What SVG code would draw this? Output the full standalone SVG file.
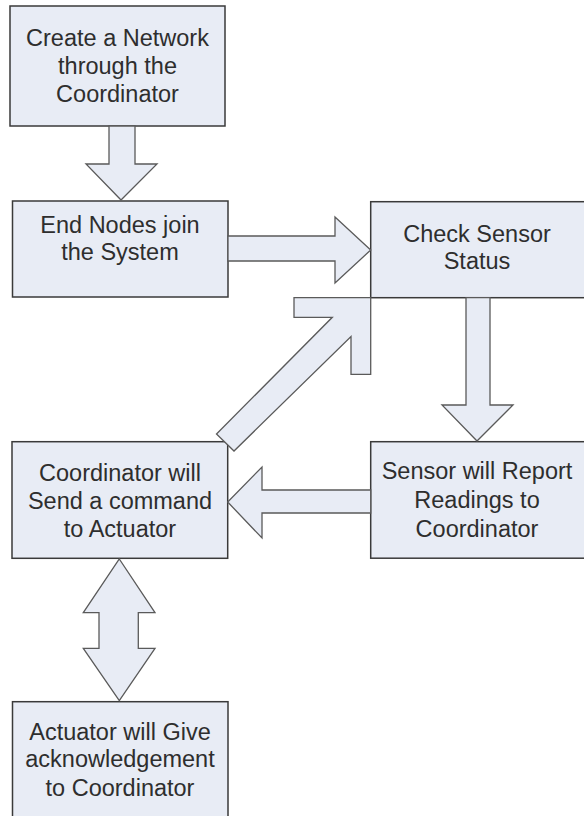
<svg xmlns="http://www.w3.org/2000/svg" width="584" height="816" viewBox="0 0 584 816">
<style>
.box{fill:#e8ecf5;stroke:#3a3a3a;stroke-width:1.5}
.arr{fill:#e8ecf5;stroke:#5a5a5a;stroke-width:1.3;stroke-linejoin:miter}
text{font-family:"Liberation Sans",Arial,sans-serif;font-size:23.5px;fill:#2e2e2e;text-anchor:middle}
</style>
<rect width="584" height="816" fill="#ffffff"/>
<g id="n1"><rect class="box" x="10" y="6" width="215" height="120"/>
<text x="117.5" y="46">Create a Network</text><text x="117.5" y="74">through the</text><text x="117.5" y="102">Coordinator</text></g>
<g id="n2"><rect class="box" x="12.5" y="201" width="215.5" height="96"/>
<text x="120" y="233">End Nodes join</text><text x="120" y="260">the System</text></g>
<g id="n3"><rect class="box" x="370.7" y="201.7" width="220" height="96"/>
<text x="477" y="242">Check Sensor</text><text x="477" y="269">Status</text></g>
<g id="n4"><rect class="box" x="370.7" y="441.7" width="220" height="116.5"/>
<text x="477" y="479">Sensor will Report</text><text x="477" y="508">Readings to</text><text x="477" y="537">Coordinator</text></g>
<g id="n5"><rect class="box" x="12" y="441.7" width="215.7" height="116.6"/>
<text x="120" y="481">Coordinator will</text><text x="120" y="509">Send a command</text><text x="120" y="537">to Actuator</text></g>
<g id="n6"><rect class="box" x="12.5" y="701.7" width="215.5" height="130"/>
<text x="120" y="740">Actuator will Give</text><text x="120" y="767">acknowledgement</text><text x="120" y="796">to Coordinator</text></g>
<g id="connectors">
<polygon class="arr" points="109,126 135,126 135,164 157,164 121,200 86,164 109,164"/>
<polygon class="arr" points="228,236 335,236 335,217 370.7,250 335,283 335,261 228,261"/>
<polygon class="arr" points="466,297.7 490,297.7 490,405 513,405 477,441 442,405 466,405"/>
<polygon class="arr" points="370.7,490 262,490 262,467 227.7,502 262,538 262,513 370.7,513"/>
<polygon class="arr" points="294,297.7 370.7,297.7 370.7,374.3 351,374.3 351,336.5 234,451 216.5,434 332.3,317.3 294,317.3"/>
<polygon class="arr" points="119.3,559 155,612.7 138.3,612.7 138.3,648.3 155,648.3 119.3,700.5 83.3,648.3 99,648.3 99,612.7 83.3,612.7"/>
</g>
</svg>
